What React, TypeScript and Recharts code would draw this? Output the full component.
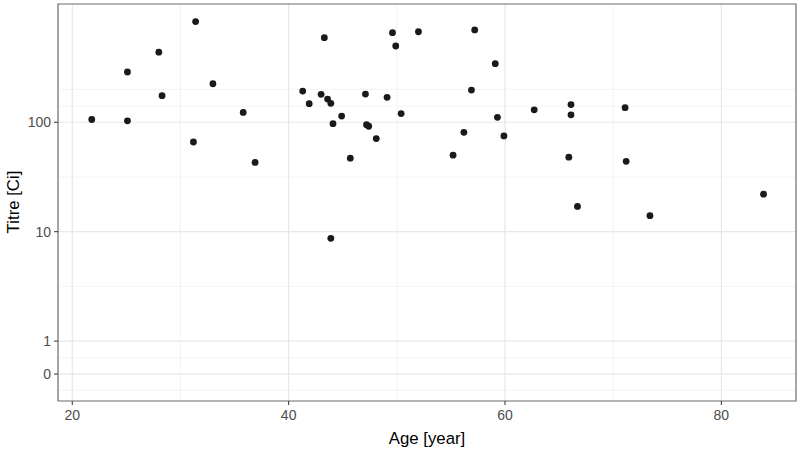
import React from 'react';
import { ScatterChart, Scatter, XAxis, YAxis, CartesianGrid, ReferenceArea } from 'recharts';

// age [year] and titre [Ci] of each subject
const ages = [
  21.8, 25.1, 25.1, 28.0, 28.3, 31.4, 31.2, 33.0, 35.8, 36.9,
  43.3, 41.3, 41.9, 43.0, 43.6, 43.9, 44.9, 44.1, 45.7, 43.9,
  47.1, 47.2, 47.4, 48.1, 49.1, 49.6, 49.9, 50.4, 52.0, 57.2,
  59.1, 56.9, 59.3, 56.2, 59.9, 55.2, 62.7, 66.1, 66.1, 71.1,
  65.9, 71.2, 66.7, 73.4, 83.9,
];
const titres = [
  106, 288, 103, 437, 175, 832, 66, 225, 123, 43,
  593, 193, 148, 180, 163, 149, 114, 97, 47, 8.7,
  181, 95, 92, 71, 169, 659, 498, 120, 672, 698,
  343, 197, 111, 81, 75, 50, 130, 145, 117, 136,
  48, 44, 17, 14, 22,
];

const xTicks = [20, 40, 60, 80];
const xMinor = [30, 50, 70];
// "0" is drawn at 0.5 on the log scale
const yTickValues = [0.5, 1, 10, 100];
const yTickLabels = ['0', '1', '10', '100'];
const yMinorValues = [0.355, 0.707, 3.16, 31.6, 140, 200];

const FONT = '"Liberation Sans", Arial, Helvetica, sans-serif';
const lg = (v: number) => Math.log10(v);

const data = ages.map((age, i) => ({ age, logTitre: lg(titres[i]) }));
const yTicks = yTickValues.map(lg);

const X_DOMAIN: [number, number] = [18.68, 86.9];
const Y_DOMAIN: [number, number] = [-0.5475, 3.081];

function XTitle() {
  return (
    <text x={427} y={444} textAnchor="middle" fontSize={16.8} fontFamily={FONT} fill="#000">
      Age [year]
    </text>
  );
}

function YTitle() {
  return (
    <text
      x={19}
      y={202}
      transform="rotate(-90 19 202)"
      textAnchor="middle"
      fontSize={16.8}
      fontFamily={FONT}
      fill="#000"
    >
      Titre [Ci]
    </text>
  );
}

function Dot(props: any) {
  const { cx, cy } = props;
  if (cx == null || cy == null) return null;
  return <circle cx={cx} cy={cy} r={3.4} fill="#1a1a1a" />;
}

export default function App() {
  const tickStyle = { fill: '#4d4d4d', fontSize: 14, fontFamily: FONT };
  return (
    <div style={{ position: 'absolute', left: 0, top: 0, width: 800, height: 449, background: '#fff' }}>
      <ScatterChart width={800} height={449} margin={{ top: 4, right: 4, bottom: 28, left: 14 }}>
        <CartesianGrid
          stroke="#efefef"
          strokeWidth={0.7}
          horizontalValues={yMinorValues.map(lg)}
          verticalValues={xMinor}
        />
        <CartesianGrid
          stroke="#e8e8e8"
          strokeWidth={1.2}
          horizontalValues={yTicks}
          verticalValues={xTicks}
        />
        <XAxis
          type="number"
          dataKey="age"
          domain={X_DOMAIN}
          allowDataOverflow
          ticks={xTicks}
          height={20}
          tickSize={4}
          tickMargin={5}
          axisLine={false}
          tickLine={{ stroke: '#333', strokeWidth: 1 }}
          tick={tickStyle}
          label={<XTitle />}
        />
        <YAxis
          type="number"
          dataKey="logTitre"
          domain={Y_DOMAIN}
          allowDataOverflow
          ticks={yTicks}
          tickFormatter={(v: number) => yTickLabels[yTicks.findIndex((t) => Math.abs(t - v) < 1e-6)] ?? ''}
          width={44}
          tickSize={4}
          tickMargin={3}
          axisLine={false}
          tickLine={{ stroke: '#333', strokeWidth: 1 }}
          tick={tickStyle}
          label={<YTitle />}
        />
        <ReferenceArea
          x1={X_DOMAIN[0]}
          x2={X_DOMAIN[1]}
          y1={Y_DOMAIN[0]}
          y2={Y_DOMAIN[1]}
          fill="none"
          stroke="#6b6b6b"
          strokeWidth={1.2}
        />
        <Scatter data={data} shape={<Dot />} isAnimationActive={false} />
      </ScatterChart>
    </div>
  );
}
